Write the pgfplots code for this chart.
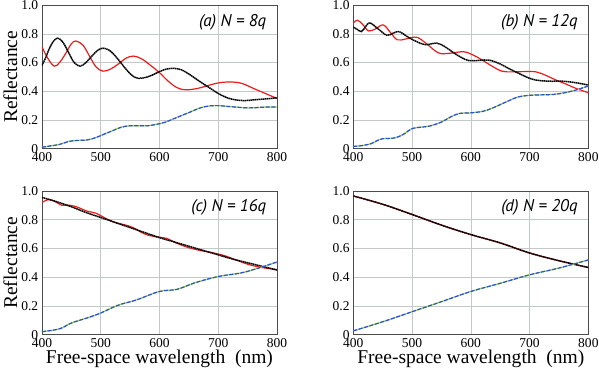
\documentclass[border=0pt]{standalone}
\usepackage{fontspec}
\setmainfont{Liberation Serif}
\newfontfamily\titlefont{PT Sans}
\usepackage{pgfplots}
\pgfplotsset{compat=1.18}
\usepgfplotslibrary{groupplots}

\definecolor{cred}{RGB}{236,28,28}
\definecolor{cblue}{RGB}{40,80,235}
\definecolor{cgreen}{RGB}{160,210,40}
\definecolor{cgrid}{RGB}{195,200,200}

\pgfplotsset{
  panel/.style={
    scale only axis, width=234bp, height=143bp,
    xmin=400, xmax=800, ymin=0, ymax=1,
    xtick={400,500,...,800}, ytick={0,0.2,...,1.0},
    yticklabels={0,0.2,0.4,0.6,0.8,1.0},
    grid=major, major grid style={cgrid, line width=0.5bp},
    axis line style={black!70, line width=0.7bp},
    major tick length=0pt,
    tick label style={font=\rmfamily\fontsize{13.5}{14}\selectfont, inner sep=0.5bp},
    /pgf/number format/assume math mode=true,
    label style={font=\rmfamily\fontsize{19.5}{20}\selectfont},
    xticklabel style={yshift=-3bp},
    yticklabel style={xshift=-3bp},
    xlabel style={inner sep=2bp},
  },
  redl/.style={cred, line width=1.2bp, smooth, tension=0.6},
  blackl/.style={black, line width=1.5bp, dash pattern=on 1.5bp off 0.5bp, smooth, tension=0.6},
  greenl/.style={cgreen, line width=1.2bp, smooth, tension=0.6},
  bluel/.style={cblue, line width=1.2bp, dash pattern=on 4bp off 1.6bp, smooth, tension=0.6},
}
\tikzset{ttl/.style={anchor=north east, font=\titlefont\itshape\fontsize{17}{18}\selectfont, inner sep=0pt}}

\begin{document}
\begin{tikzpicture}
\begin{groupplot}[group style={group size=2 by 2, horizontal sep=76bp, vertical sep=42bp}, panel]
% (a)
\nextgroupplot[ylabel={Reflectance}]
\addplot[redl] coordinates {(400,0.71)(410,0.63)(421,0.575)(430,0.60)(440,0.66)(450,0.73)(458,0.75)(470,0.72)(481,0.645)(492,0.57)(504,0.54)(517,0.555)(530,0.59)(543,0.63)(556,0.645)(570,0.625)(585,0.58)(600,0.53)(615,0.47)(630,0.425)(645,0.41)(665,0.42)(683,0.44)(700,0.458)(721,0.465)(740,0.455)(760,0.42)(780,0.385)(800,0.35)};
\addplot[blackl] coordinates {(400,0.58)(406,0.63)(413,0.70)(420,0.75)(427,0.77)(436,0.74)(446,0.665)(455,0.60)(465,0.575)(475,0.60)(485,0.645)(495,0.685)(504,0.70)(515,0.685)(525,0.645)(535,0.595)(545,0.545)(555,0.505)(565,0.49)(580,0.50)(594,0.525)(608,0.55)(622,0.56)(637,0.55)(652,0.515)(668,0.47)(683,0.43)(700,0.385)(715,0.355)(730,0.34)(745,0.335)(760,0.34)(775,0.345)(790,0.35)(800,0.355)};
\addplot[greenl] coordinates {(400,0.01)(415,0.02)(430,0.03)(445,0.05)(460,0.058)(475,0.06)(490,0.075)(505,0.10)(520,0.125)(535,0.15)(550,0.16)(565,0.16)(580,0.16)(595,0.17)(610,0.185)(625,0.21)(640,0.235)(655,0.26)(670,0.285)(685,0.298)(700,0.30)(715,0.295)(730,0.29)(745,0.285)(760,0.285)(780,0.29)(800,0.29)};
\addplot[bluel] coordinates {(400,0.01)(415,0.02)(430,0.03)(445,0.05)(460,0.058)(475,0.06)(490,0.075)(505,0.10)(520,0.125)(535,0.15)(550,0.16)(565,0.16)(580,0.16)(595,0.17)(610,0.185)(625,0.21)(640,0.235)(655,0.26)(670,0.285)(685,0.298)(700,0.30)(715,0.295)(730,0.29)(745,0.285)(760,0.285)(780,0.29)(800,0.29)};
\node[ttl] at (rel axis cs:0.955,0.94) {(a) N = 8q};
% (b)
\nextgroupplot
\addplot[redl] coordinates {(400,0.875)(407,0.895)(416,0.865)(426,0.82)(438,0.835)(451,0.862)(463,0.81)(475,0.758)(490,0.765)(508,0.776)(525,0.73)(545,0.667)(565,0.665)(588,0.675)(605,0.65)(619,0.618)(636,0.575)(653,0.54)(670,0.535)(690,0.537)(711,0.535)(728,0.51)(745,0.478)(762,0.45)(779,0.42)(800,0.39)};
\addplot[blackl] coordinates {(400,0.847)(407,0.83)(414,0.816)(421,0.85)(428,0.877)(442,0.835)(457,0.79)(468,0.805)(478,0.816)(490,0.785)(503,0.755)(522,0.725)(542,0.735)(556,0.71)(570,0.67)(584,0.635)(597,0.613)(614,0.615)(631,0.617)(650,0.59)(666,0.555)(682,0.524)(697,0.495)(711,0.478)(733,0.47)(756,0.47)(778,0.46)(800,0.443)};
\addplot[greenl] coordinates {(400,0.016)(415,0.022)(430,0.035)(440,0.055)(450,0.07)(470,0.075)(485,0.10)(500,0.14)(515,0.15)(530,0.158)(550,0.186)(565,0.22)(580,0.245)(600,0.25)(620,0.26)(635,0.28)(650,0.307)(665,0.335)(680,0.36)(700,0.372)(720,0.375)(740,0.378)(760,0.39)(780,0.41)(800,0.437)};
\addplot[bluel] coordinates {(400,0.016)(415,0.022)(430,0.035)(440,0.055)(450,0.07)(470,0.075)(485,0.10)(500,0.14)(515,0.15)(530,0.158)(550,0.186)(565,0.22)(580,0.245)(600,0.25)(620,0.26)(635,0.28)(650,0.307)(665,0.335)(680,0.36)(700,0.372)(720,0.375)(740,0.378)(760,0.39)(780,0.41)(800,0.437)};
\node[ttl] at (rel axis cs:0.955,0.94) {(b) N = 12q};
% (c)
\nextgroupplot[ylabel={Reflectance}, xlabel={Free-space wavelength\ \ (nm)}]
\addplot[redl] coordinates {(400,0.92)(412,0.94)(423,0.925)(434,0.90)(448,0.90)(462,0.885)(476,0.86)(492,0.845)(508,0.81)(525,0.78)(540,0.765)(555,0.745)(575,0.70)(595,0.68)(612,0.67)(630,0.635)(650,0.605)(670,0.585)(690,0.57)(710,0.55)(730,0.52)(750,0.49)(770,0.47)(785,0.46)(800,0.45)};
\addplot[blackl] coordinates {(400,0.955)(425,0.925)(450,0.89)(475,0.85)(500,0.815)(525,0.78)(550,0.745)(575,0.71)(600,0.675)(625,0.645)(650,0.615)(675,0.585)(700,0.555)(725,0.525)(750,0.50)(775,0.475)(800,0.45)};
\addplot[greenl] coordinates {(400,0.02)(430,0.04)(450,0.08)(480,0.12)(500,0.15)(530,0.205)(560,0.24)(600,0.30)(630,0.315)(660,0.36)(700,0.404)(740,0.43)(770,0.465)(800,0.505)};
\addplot[bluel] coordinates {(400,0.02)(430,0.04)(450,0.08)(480,0.12)(500,0.15)(530,0.205)(560,0.24)(600,0.30)(630,0.315)(660,0.36)(700,0.404)(740,0.43)(770,0.465)(800,0.505)};
\node[ttl] at (rel axis cs:0.955,0.94) {(c) N = 16q};
% (d)
\nextgroupplot[xlabel={Free-space wavelength\ \ (nm)}]
\addplot[redl] coordinates {(400,0.965)(450,0.907)(500,0.836)(550,0.762)(600,0.696)(650,0.638)(700,0.568)(750,0.514)(800,0.467)};
\addplot[blackl] coordinates {(400,0.965)(450,0.907)(500,0.836)(550,0.762)(600,0.696)(650,0.638)(700,0.568)(750,0.514)(800,0.467)};
\addplot[greenl] coordinates {(400,0.026)(450,0.089)(500,0.159)(550,0.229)(600,0.30)(650,0.357)(700,0.416)(750,0.463)(800,0.52)};
\addplot[bluel] coordinates {(400,0.026)(450,0.089)(500,0.159)(550,0.229)(600,0.30)(650,0.357)(700,0.416)(750,0.463)(800,0.52)};
\node[ttl] at (rel axis cs:0.955,0.94) {(d) N = 20q};
\end{groupplot}
\end{tikzpicture}
\end{document}
